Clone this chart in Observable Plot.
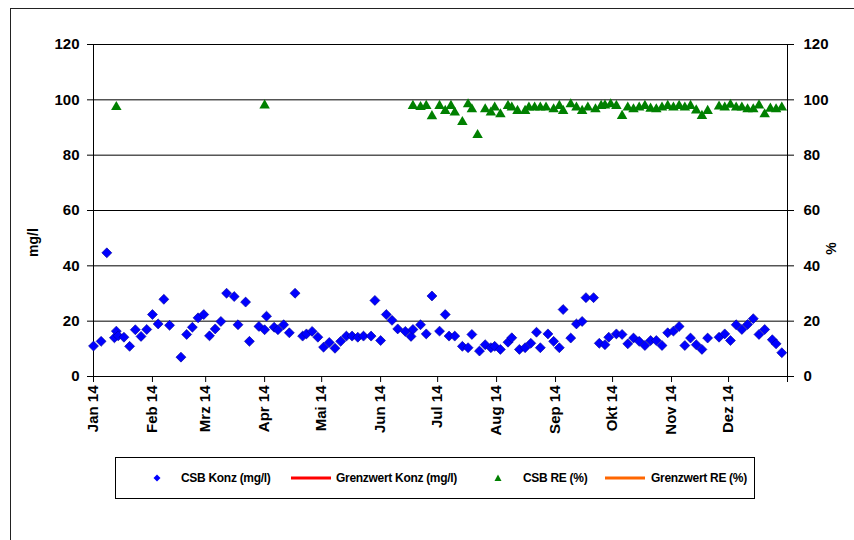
<!DOCTYPE html>
<html>
<head>
<meta charset="utf-8">
<script src="https://cdn.jsdelivr.net/npm/d3@7"></script>
<script src="https://cdn.jsdelivr.net/npm/@observablehq/plot@0.6"></script>
<style>
  html, body { margin: 0; padding: 0; background: #fff; }
  #wrap { position: relative; width: 854px; height: 540px; overflow: hidden; font-family: "Liberation Sans", Arial, sans-serif; }
  #border { position: absolute; left: 10px; top: 8px; width: 900px; height: 600px; border-left: 1px solid #222; border-top: 1px solid #222; }
  #chart { position: absolute; left: 0; top: 0; }
  #legend { position: absolute; left: 115px; top: 457px; width: 638px; height: 40px; border: 1px solid #000; background: #fff; }
  #legend .item { position: absolute; top: 0; height: 40px; line-height: 40px; font-size: 12px; font-weight: bold; letter-spacing: -0.3px; color: #000; white-space: nowrap; }
  #legend svg { position: absolute; top: 0; }
</style>
</head>
<body>
<div id="wrap">
  <div id="border"></div>
  <div id="chart"></div>
  <div id="legend"></div>
</div>
<script>
// CSB concentration (mg/l), sampling dates 2014
const konzDates = [
  "2014-01-01","2014-01-05","2014-01-08","2014-01-12","2014-01-13","2014-01-14","2014-01-17","2014-01-20",
  "2014-01-23","2014-01-26","2014-01-29","2014-02-01","2014-02-04","2014-02-07","2014-02-10","2014-02-16",
  "2014-02-19","2014-02-22","2014-02-25","2014-02-28","2014-03-03","2014-03-06","2014-03-09","2014-03-12",
  "2014-03-16","2014-03-18","2014-03-22","2014-03-24","2014-03-29","2014-04-01","2014-04-02","2014-04-06",
  "2014-04-08","2014-04-11","2014-04-14","2014-04-17","2014-04-21","2014-04-23","2014-04-26","2014-04-29",
  "2014-05-02","2014-05-05","2014-05-08","2014-05-11","2014-05-14","2014-05-17","2014-05-20","2014-05-23",
  "2014-05-27","2014-05-29","2014-06-01","2014-06-04","2014-06-07","2014-06-10","2014-06-14","2014-06-17",
  "2014-06-18","2014-06-22","2014-06-25","2014-06-28","2014-07-02","2014-07-05","2014-07-07","2014-07-10",
  "2014-07-14","2014-07-17","2014-07-19","2014-07-23","2014-07-26","2014-07-29","2014-07-31","2014-08-03",
  "2014-08-07","2014-08-09","2014-08-13","2014-08-16","2014-08-19","2014-08-22","2014-08-24","2014-08-28",
  "2014-08-31","2014-09-03","2014-09-05","2014-09-09","2014-09-12","2014-09-15","2014-09-17","2014-09-21",
  "2014-09-24","2014-09-27","2014-09-29","2014-10-03","2014-10-06","2014-10-09","2014-10-12","2014-10-15",
  "2014-10-18","2014-10-21","2014-10-24","2014-10-27","2014-10-30","2014-11-02","2014-11-05","2014-11-08",
  "2014-11-11","2014-11-14","2014-11-17","2014-11-20","2014-11-26","2014-11-29","2014-12-02","2014-12-05",
  "2014-12-08","2014-12-11","2014-12-14","2014-12-17","2014-12-20","2014-12-24","2014-12-26","2014-12-29"
];
const konzValues = [
  11, 12.7, 44.7, 14, 16.4, 14.7, 14.2, 10.9,
  16.9, 14.5, 17, 22.4, 19, 27.9, 18.5, 7,
  15.2, 17.8, 21.2, 22.4, 14.7, 17.2, 19.9, 30.1,
  28.9, 18.7, 26.9, 12.7, 18.1, 16.9, 21.8, 17.8,
  16.9, 18.7, 15.8, 30.1, 14.6, 15.4, 16.3, 14.2,
  10.6, 12.3, 10.2, 12.7, 14.6, 14.6, 14.2, 14.6,
  14.6, 27.5, 13, 22.4, 20.3, 17.2, 16.3, 14.5,
  17, 18.7, 15.4, 29.1, 16.4, 22.4, 14.6, 14.6,
  10.9, 10.4, 15.2, 9.2, 11.5, 10.4, 10.9, 9.8,
  12.4, 14, 9.8, 10.4, 12, 16, 10.4, 15.4,
  12.7, 10.4, 24.2, 13.9, 19, 19.9, 28.5, 28.5,
  12, 11.5, 14.2, 15.4, 15.2, 11.8, 13.9, 12.7,
  11.2, 13, 13, 11.2, 15.8, 16.4, 18.1, 11.2,
  13.9, 11.5, 9.8, 13.9, 14.2, 15.4, 13, 18.7,
  17, 18.8, 20.9, 15.2, 17, 13.3, 11.8, 8.6
];

// CSB removal efficiency (%)
const reDates = [
  "2014-01-13","2014-04-01","2014-06-18","2014-06-22","2014-06-25","2014-06-28","2014-07-02","2014-07-05",
  "2014-07-08","2014-07-10","2014-07-14","2014-07-17","2014-07-19","2014-07-22","2014-07-26","2014-07-29",
  "2014-07-31","2014-08-03","2014-08-07","2014-08-09","2014-08-12","2014-08-16","2014-08-18","2014-08-21",
  "2014-08-24","2014-08-27","2014-08-31","2014-09-03","2014-09-05","2014-09-09","2014-09-12","2014-09-15",
  "2014-09-18","2014-09-22","2014-09-25","2014-09-27","2014-09-30","2014-10-03","2014-10-06","2014-10-09",
  "2014-10-12","2014-10-15","2014-10-18","2014-10-21","2014-10-24","2014-10-27","2014-10-30","2014-11-02",
  "2014-11-05","2014-11-08","2014-11-11","2014-11-14","2014-11-17","2014-11-20","2014-11-26","2014-11-29",
  "2014-12-02","2014-12-05","2014-12-08","2014-12-11","2014-12-14","2014-12-17","2014-12-20","2014-12-23",
  "2014-12-26","2014-12-29"
];
const reValues = [
  97.4, 98, 97.8, 97.4, 97.8, 94.1, 97.8, 96,
  97.8, 95.4, 92, 98.4, 96.6, 87.3, 96.6, 95.4,
  97.2, 94.8, 97.8, 97.2, 96, 96, 97.2, 97.2,
  97.2, 97.2, 96.6, 97.8, 96, 98.4, 97.2, 96,
  97.2, 96.6, 97.8, 98, 98.4, 97.8, 94.2, 97.2,
  96.6, 97.2, 97.8, 96.8, 96.6, 97.2, 97.8, 97.2,
  97.8, 97.2, 97.8, 96.2, 94.2, 96, 97.6, 97.2,
  98.2, 97.2, 97.2, 96.6, 96.6, 98, 94.8, 96.8,
  96.6, 97.2
];

// Axis ticks
const yTicks = [0, 20, 40, 60, 80, 100, 120];
const monthNames = ["Jan","Feb","Mrz","Apr","Mai","Jun","Jul","Aug","Sep","Okt","Nov","Dez"];
const yearLabel = "14";

// Legend entries
const legendItems = [
  {label: "CSB Konz (mg/l)", kind: "diamond", color: "#0000ff"},
  {label: "Grenzwert Konz (mg/l)", kind: "line", color: "#ff0000"},
  {label: "CSB RE (%)", kind: "triangle", color: "#008000"},
  {label: "Grenzwert RE (%)", kind: "line", color: "#ff6600"}
];

const parse = d3.utcParse("%Y-%m-%d");
const konz = konzDates.map((d, i) => ({date: parse(d), value: konzValues[i]}));
const re = reDates.map((d, i) => ({date: parse(d), value: reValues[i]}));
const monthTicks = d3.range(13).map(m => new Date(Date.UTC(2014, m, 1)));
const fmtMonth = d => d.getUTCFullYear() === 2014 ? `${monthNames[d.getUTCMonth()]} ${yearLabel}` : "";

const font = "Liberation Sans, Arial, sans-serif";

const chart = Plot.plot({
  width: 854,
  height: 450,
  marginLeft: 93,
  marginRight: 67,
  marginTop: 44,
  marginBottom: 74,
  x: {type: "utc", domain: [monthTicks[0], monthTicks[12]]},
  y: {domain: [0, 120]},
  style: {fontFamily: font, color: "#000", background: "transparent", overflow: "visible"},
  marks: [
    Plot.ruleY(yTicks.filter(v => v > 0), {stroke: "#000", strokeWidth: 1}),
    Plot.frame({stroke: "#000", strokeWidth: 1}),
    Plot.axisY({ticks: yTicks, tickSize: 6, tickPadding: 8, fontSize: 15, fontWeight: "bold", label: null}),
    Plot.axisY({anchor: "right", ticks: yTicks, tickSize: 6, tickPadding: 10, fontSize: 15, fontWeight: "bold", label: null}),
    Plot.axisX({ticks: monthTicks, tickFormat: fmtMonth, tickRotate: -90, tickSize: 6, tickPadding: 3, fontSize: 15, fontWeight: "bold", label: null}),
    Plot.dot(konz, {x: "date", y: "value", symbol: "diamond2", r: 4.5, fill: "#0000ff", stroke: "#000090", strokeWidth: 0.6}),
    Plot.dot(re, {x: "date", y: "value", symbol: "triangle", r: 3.9, fill: "#008000"}),
    Plot.text(["mg/l"], {text: d => d, frameAnchor: "left", textAnchor: "middle", dx: -60, dy: 32, rotate: -90, fontSize: 14, fontWeight: "bold"}),
    Plot.text(["%"], {text: d => d, frameAnchor: "right", textAnchor: "middle", dx: 44, dy: 38, rotate: -90, fontSize: 14, fontWeight: "bold"})
  ]
});
document.getElementById("chart").appendChild(chart);

// Legend: symbol centres and label starts, relative to the box
const legend = document.getElementById("legend");
const symbolX = [41, 195, 382, 509];
const labelX = [65, 220, 407, 535];
legendItems.forEach((it, i) => {
  const ns = "http://www.w3.org/2000/svg";
  const svg = document.createElementNS(ns, "svg");
  svg.setAttribute("width", 50);
  svg.setAttribute("height", 40);
  svg.style.left = (symbolX[i] - 25) + "px";
  let shape;
  if (it.kind === "diamond") {
    shape = document.createElementNS(ns, "path");
    shape.setAttribute("d", "M25,16.5L28.5,20L25,23.5L21.5,20Z");
    shape.setAttribute("fill", it.color);
  } else if (it.kind === "triangle") {
    shape = document.createElementNS(ns, "path");
    shape.setAttribute("d", "M25,16.5L28.5,23L21.5,23Z");
    shape.setAttribute("fill", it.color);
  } else {
    shape = document.createElementNS(ns, "line");
    shape.setAttribute("x1", 5);
    shape.setAttribute("x2", 45);
    shape.setAttribute("y1", 20);
    shape.setAttribute("y2", 20);
    shape.setAttribute("stroke", it.color);
    shape.setAttribute("stroke-width", 3);
  }
  svg.appendChild(shape);
  legend.appendChild(svg);
  const span = document.createElement("div");
  span.className = "item";
  span.style.left = labelX[i] + "px";
  span.textContent = it.label;
  legend.appendChild(span);
});
</script>
</body>
</html>
